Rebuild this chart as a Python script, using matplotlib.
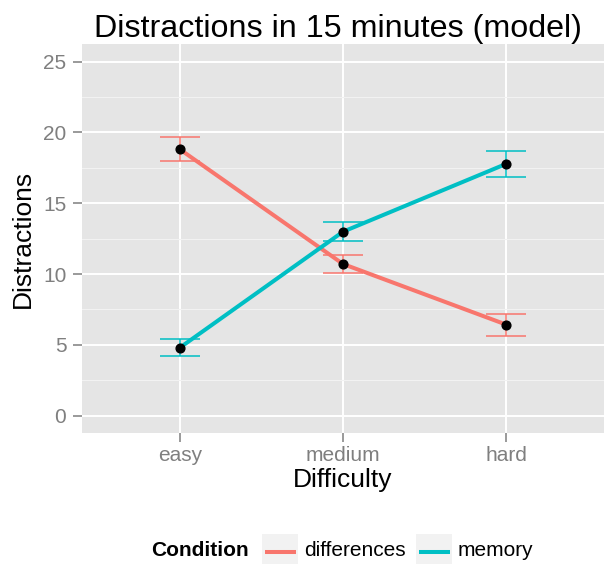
import matplotlib
matplotlib.use("Agg")
import matplotlib.pyplot as plt
from matplotlib.patches import Rectangle
from matplotlib.lines import Line2D
import numpy as np

plt.rcParams['font.family'] = ['Liberation Sans', 'DejaVu Sans']

# Daten
difficulty = ['easy', 'medium', 'hard']
conditions = ['differences', 'memory']
diff_mean = [18.81, 10.71, 6.43]
diff_lo = [17.99, 10.06, 5.63]
diff_hi = [19.66, 11.35, 7.20]
mem_mean = [4.80, 12.99, 17.78]
mem_lo = [4.19, 12.32, 16.86]
mem_hi = [5.42, 13.70, 18.67]
y_ticks = [0, 5, 10, 15, 20, 25]

colors = {'differences': '#F8766D', 'memory': '#00BFC4'}
series = {
    'differences': (diff_mean, diff_lo, diff_hi),
    'memory': (mem_mean, mem_lo, mem_hi),
}

W, H = 606, 565
fig = plt.figure(figsize=(W / 100, H / 100), dpi=100)
ax = fig.add_axes([82 / W, 1 - 433.3 / H, 522 / W, (433.3 - 44) / H])
ax.set_facecolor('#E5E5E5')
for s in ax.spines.values():
    s.set_visible(False)

x = np.arange(1, len(difficulty) + 1)

# Gitter
ax.set_xlim(0.4, 3.6)
ax.set_ylim(-1.25, 26.25)
ax.set_xticks(x)
ax.set_xticklabels(difficulty)
ax.set_yticks(y_ticks)
ax.set_yticks([2.5, 7.5, 12.5, 17.5, 22.5], minor=True)
ax.grid(True, which='major', color='white', linewidth=1.4)
ax.grid(True, which='minor', axis='y', color='#F2F2F2', linewidth=0.8)
ax.set_axisbelow(True)
ax.tick_params(which='major', length=6.3, width=1.1, color='#7F7F7F',
               labelcolor='#7F7F7F', labelsize=15, pad=3)
ax.tick_params(axis='y', pad=5)
ax.tick_params(which='minor', length=0)

for name in conditions:
    mean, lo, hi = series[name]
    mean = np.array(mean)
    yerr = [mean - np.array(lo), np.array(hi) - mean]
    ax.errorbar(x, mean, yerr=yerr, fmt='none', ecolor=colors[name],
                elinewidth=1.1, capsize=14.4, capthick=1.1, zorder=2)
for name in conditions:
    mean = series[name][0]
    ax.plot(x, mean, color=colors[name], linewidth=2.9, zorder=3,
            solid_capstyle='butt')
for name in conditions:
    mean = series[name][0]
    ax.plot(x, mean, 'o', color='black', markersize=6.3, zorder=4)

ax.set_xlabel('Difficulty', fontsize=19, labelpad=2)
ax.set_ylabel('Distractions', fontsize=19, labelpad=6)

fig.text(338 / W, 1 - 37 / H, 'Distractions in 15 minutes (model)',
         fontsize=23.2, ha='center', va='baseline')

# Legende
leg = fig.add_axes([0, 0, 1, 1])
leg.set_xlim(0, W)
leg.set_ylim(H, 0)
leg.axis('off')
leg.patch.set_alpha(0)
leg.text(151, 551, 'Condition', fontsize=15, fontweight='bold',
         ha='left', va='center')
key_x = {'differences': 262, 'memory': 416}
for name in conditions:
    kx = key_x[name]
    leg.add_patch(Rectangle((kx, 534), 36, 30, facecolor='#F2F2F2',
                            edgecolor='none'))
    leg.add_line(Line2D([kx + 3, kx + 34], [552, 552], color=colors[name],
                        linewidth=2.9, solid_capstyle='butt'))
    leg.text(kx + 42, 551, name, fontsize=15, ha='left', va='center')

fig.savefig('out.png', dpi=100)
